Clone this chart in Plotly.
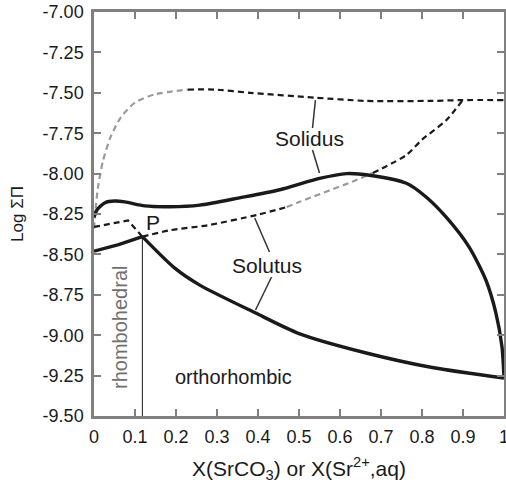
import plotly.graph_objects as go

# ---- data ----
# Upper solid curve (solidus, stable)
solidus_x = [0.0, 0.007, 0.027, 0.05, 0.075, 0.124, 0.185, 0.258, 0.355, 0.453, 0.55, 0.616, 0.672, 0.762, 0.81, 0.859, 0.915, 0.956, 0.98, 0.995, 1.0]
solidus_y = [-8.27, -8.225, -8.18, -8.17, -8.175, -8.20, -8.205, -8.195, -8.15, -8.10, -8.03, -8.00, -8.01, -8.06, -8.145, -8.27, -8.455, -8.66, -8.86, -9.07, -9.26]

# Lower solid curve (solutus, stable) - P is at index 2
solutus_x = [0.0, 0.06, 0.118, 0.197, 0.258, 0.392, 0.50, 0.664, 0.825, 1.0]
solutus_y = [-8.48, -8.44, -8.39, -8.585, -8.69, -8.86, -8.99, -9.11, -9.20, -9.265]

# Upper dashed curve (solidus, metastable)
solidus_ms_x = [0.0, 0.005, 0.01, 0.022, 0.041, 0.066, 0.10, 0.148, 0.229, 0.294, 0.38, 0.538, 0.664, 0.825, 0.898, 1.0]
solidus_ms_y = [-8.34, -8.19, -8.08, -7.92, -7.77, -7.65, -7.56, -7.51, -7.48, -7.48, -7.50, -7.53, -7.55, -7.55, -7.545, -7.545]

# Lower dashed curve (solutus, metastable) - P is at index 4
solutus_ms_x = [0.0, 0.039, 0.083, 0.097, 0.118, 0.187, 0.277, 0.397, 0.47, 0.50, 0.63, 0.68, 0.762, 0.80, 0.859, 0.898]
solutus_ms_y = [-8.33, -8.31, -8.29, -8.33, -8.39, -8.35, -8.32, -8.256, -8.207, -8.176, -8.05, -7.996, -7.885, -7.79, -7.67, -7.55]

# Point P and phase boundary
p_x = 0.118
p_y = -8.39

x_ticks = [0, 0.1, 0.2, 0.3, 0.4, 0.5, 0.6, 0.7, 0.8, 0.9, 1]
x_ticklabels = ["0", "0.1", "0.2", "0.3", "0.4", "0.5", "0.6", "0.7", "0.8", "0.9", "1"]
y_ticks = [-9.5, -9.25, -9.0, -8.75, -8.5, -8.25, -8.0, -7.75, -7.5, -7.25, -7.0]
y_ticklabels = ["-9.50", "-9.25", "-9.00", "-8.75", "-8.50", "-8.25", "-8.00", "-7.75", "-7.50", "-7.25", "-7.00"]

FONT = "Liberation Sans, Arial, sans-serif"
DARK = "#1a1a1a"
GRAY = "#9a9a9a"
AXIS = "#808080"

fig = go.Figure()

def add_line(xs, ys, color, width, dash="solid", shape="spline"):
    fig.add_trace(go.Scatter(x=xs, y=ys, mode="lines", showlegend=False, hoverinfo="skip",
                             line=dict(color=color, width=width, dash=dash, shape=shape, smoothing=0.7)))

DASH = "6px,4px"

# metastable upper dashed: gray at start, black afterwards
add_line(solidus_ms_x[:9], solidus_ms_y[:9], GRAY, 2.2, DASH)
add_line(solidus_ms_x[8:], solidus_ms_y[8:], DARK, 2.2, DASH)

# metastable lower dashed
add_line(solutus_ms_x[:5], solutus_ms_y[:5], DARK, 2.2, DASH, shape="linear")
add_line(solutus_ms_x[4:9], solutus_ms_y[4:9], DARK, 2.2, DASH)
add_line(solutus_ms_x[8:12], solutus_ms_y[8:12], GRAY, 2.2, DASH)
add_line(solutus_ms_x[11:], solutus_ms_y[11:], DARK, 2.2, DASH)

# stable solid curves
add_line(solidus_x, solidus_y, DARK, 3.4)
add_line(solutus_x[:3], solutus_y[:3], DARK, 3.4, shape="linear")
add_line(solutus_x[2:], solutus_y[2:], DARK, 3.4)

# phase boundary at P
fig.add_trace(go.Scatter(x=[p_x, p_x], y=[p_y, -9.5], mode="lines", showlegend=False, hoverinfo="skip",
                         line=dict(color=DARK, width=1)))

# leader lines for labels
leaders = [
    ([0.540, 0.533], [-7.545, -7.718]),
    ([0.533, 0.550], [-7.854, -7.996]),
    ([0.392, 0.428], [-8.275, -8.485]),
    ([0.433, 0.394], [-8.64, -8.844]),
]
for lx, ly in leaders:
    fig.add_trace(go.Scatter(x=lx, y=ly, mode="lines", showlegend=False, hoverinfo="skip",
                             line=dict(color="#333333", width=1.5)))

ann_font = dict(family=FONT, size=21, color=DARK)
fig.add_annotation(x=0.526, y=-7.78, text="Solidus", showarrow=False, font=ann_font)
fig.add_annotation(x=0.423, y=-8.566, text="Solutus", showarrow=False, font=ann_font)
fig.add_annotation(x=0.144, y=-8.30, text="P", showarrow=False, font=ann_font)
fig.add_annotation(x=0.34, y=-9.26, text="orthorhombic", showarrow=False, font=dict(family=FONT, size=20, color=DARK))
fig.add_annotation(x=0.063, y=-8.95, text="rhombohedral", textangle=-90, showarrow=False,
                   font=dict(family=FONT, size=20, color="#707070"))

axis_common = dict(showline=True, linecolor=AXIS, linewidth=2.5, mirror="ticks",
                   ticks="inside", ticklen=7, tickwidth=2, tickcolor=AXIS,
                   showgrid=False, zeroline=False, automargin=False,
                   ticklabeloverflow="allow",
                   tickfont=dict(family=FONT, size=18, color=DARK))

fig.update_xaxes(range=[0, 1], tickvals=x_ticks, ticktext=x_ticklabels, ticklabelstandoff=3,
                 title=dict(text="X(SrCO<sub>3</sub>) or X(Sr<sup>2+</sup>,aq)",
                            font=dict(family=FONT, size=21, color=DARK)),
                 **axis_common)
fig.update_yaxes(range=[-9.5, -7.0], tickvals=y_ticks, ticktext=y_ticklabels, ticklabelstandoff=4,
                 title=dict(text="Log ΣΠ", font=dict(family=FONT, size=17, color=DARK)),
                 **axis_common)

fig.update_layout(width=506, height=483, margin=dict(l=94, r=2, t=12, b=67),
                  paper_bgcolor="white", plot_bgcolor="white")

# remove the default page margin so the figure fills the window exactly
fig.write_html("out.html", config={"displayModeBar": False},
               post_script="document.body.style.margin='0';document.documentElement.style.overflow='hidden';")
